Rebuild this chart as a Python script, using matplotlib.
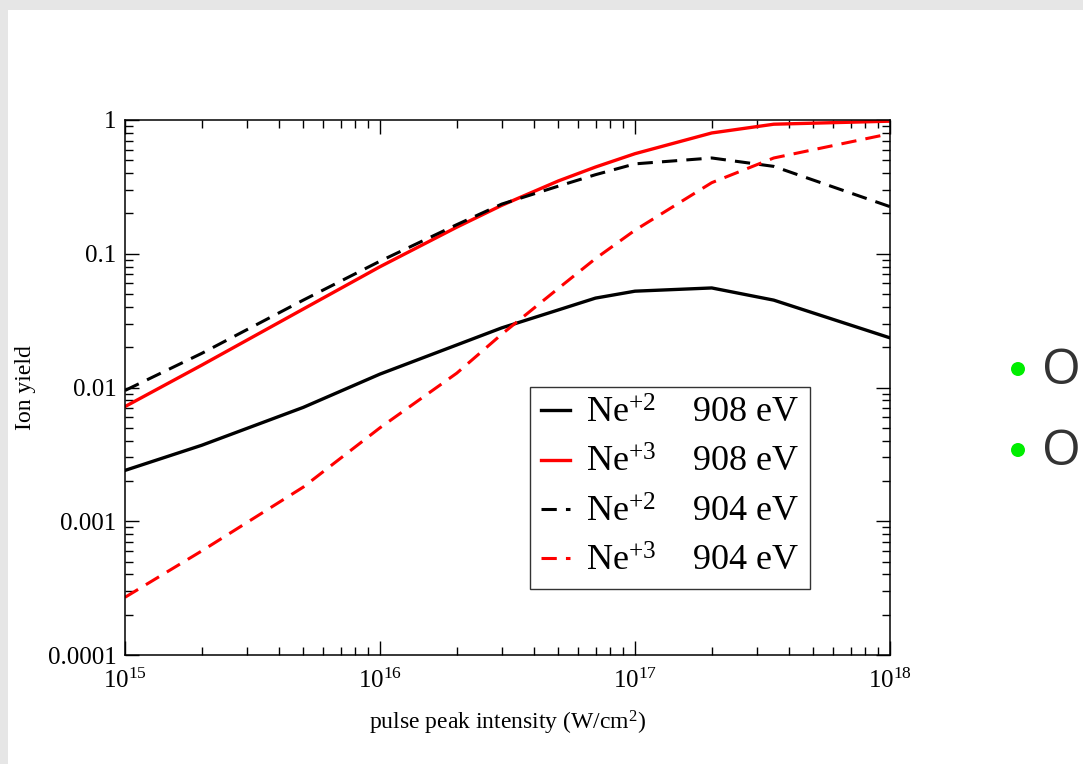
import matplotlib
matplotlib.use("Agg")
import matplotlib.pyplot as plt
from matplotlib.patches import Rectangle, Ellipse
from matplotlib.ticker import FixedLocator, FixedFormatter, LogLocator, NullFormatter
import numpy as np

plt.rcParams['font.family'] = ['Liberation Serif', 'DejaVu Serif']
plt.rcParams['mathtext.fontset'] = 'custom'
plt.rcParams['mathtext.rm'] = 'Liberation Serif'
plt.rcParams['mathtext.it'] = 'Liberation Serif:italic'
plt.rcParams['mathtext.bf'] = 'Liberation Serif:bold'

# ---- data ----
intensity = [1e15, 2e15, 5e15, 1e16, 2e16, 3e16, 5e16, 7e16, 1e17, 2e17, 3.5e17, 1e18]
ne2_908 = [0.0024, 0.0037, 0.0071, 0.0126, 0.0208, 0.0279, 0.038, 0.0466, 0.0525, 0.0555, 0.045, 0.0235]
ne3_908 = [0.0072, 0.0147, 0.0386, 0.080, 0.158, 0.23, 0.35, 0.445, 0.56, 0.80, 0.93, 0.98]
ne2_904 = [0.0095, 0.018, 0.045, 0.088, 0.165, 0.235, 0.32, 0.39, 0.47, 0.52, 0.45, 0.225]
ne3_904 = [0.00027, 0.00060, 0.0018, 0.0050, 0.0128, 0.025, 0.055, 0.092, 0.150, 0.34, 0.52, 0.79]

series_labels = ["Ne$^{+2}$    908 eV", "Ne$^{+3}$    908 eV",
                 "Ne$^{+2}$    904 eV", "Ne$^{+3}$    904 eV"]
ytick_vals = [1e-4, 1e-3, 1e-2, 1e-1, 1]
ytick_labels = ["0.0001", "0.001", "0.01", "0.1", "1"]
xtick_vals = [1e15, 1e16, 1e17, 1e18]
xtick_labels = ["$10^{15}$", "$10^{16}$", "$10^{17}$", "$10^{18}$"]

W, H = 1083, 764
fig = plt.figure(figsize=(W / 100, H / 100), dpi=100)
fig.patch.set_facecolor('#e6e6e6')
fig.patches.append(Rectangle((8 / W, 0), 1, 1 - 10 / H, transform=fig.transFigure,
                             facecolor='white', edgecolor='none', zorder=-5))

ax = fig.add_axes([125 / W, 1 - 655 / H, 765 / W, 535 / H], zorder=2)
ax.set_xscale('log')
ax.set_yscale('log')

lw = 2.4
dash = (0, (5.0, 3.0))
ax.plot(intensity, ne2_908, color='black', lw=lw, label=series_labels[0])
ax.plot(intensity, ne3_908, color='#ff0000', lw=lw, label=series_labels[1])
ax.plot(intensity, ne2_904, color='black', lw=2.2, ls=dash, label=series_labels[2])
ax.plot(intensity, ne3_904, color='#ff0000', lw=2.2, ls=dash, label=series_labels[3])

ax.set_xlim(1e15, 1e18)
ax.set_ylim(1e-4, 1)

ax.yaxis.set_major_locator(FixedLocator(ytick_vals))
ax.yaxis.set_major_formatter(FixedFormatter(ytick_labels))
ax.xaxis.set_major_locator(FixedLocator(xtick_vals))
ax.xaxis.set_major_formatter(FixedFormatter(xtick_labels))
ax.xaxis.set_minor_locator(LogLocator(base=10, subs=np.arange(2, 10)))
ax.yaxis.set_minor_locator(LogLocator(base=10, subs=np.arange(2, 10)))
ax.xaxis.set_minor_formatter(NullFormatter())
ax.yaxis.set_minor_formatter(NullFormatter())

ax.tick_params(which='both', direction='in', top=True, right=True, width=1.0, colors='black')
ax.tick_params(which='major', length=10, labelsize=18)
ax.tick_params(which='minor', length=5.5)
ax.tick_params(axis='x', which='major', pad=10)
ax.tick_params(axis='y', which='major', pad=6)
for s in ax.spines.values():
    s.set_linewidth(1.1)

ax.set_xlabel("pulse peak intensity (W/cm$^2$)", fontsize=17, labelpad=11)
ax.set_ylabel("Ion yield", fontsize=17)
ax.yaxis.set_label_coords(-(125 - 36) / 765, 0.5)

leg = ax.legend(loc='upper left', bbox_to_anchor=(405 / 765, (655 - 387) / 535),
                fontsize=26, frameon=True, fancybox=False, borderpad=0.3,
                handlelength=0.8, handletextpad=0.45, labelspacing=0.44,
                borderaxespad=0)
leg.get_frame().set_edgecolor('black')
leg.get_frame().set_linewidth(1.0)

# right side slide content (bullets and text)
for yc in (369, 450):
    fig.patches.append(Ellipse((1018 / W, 1 - yc / H), 14 / W, 14 / H, transform=fig.transFigure,
                               facecolor='#00ee00', edgecolor='none', zorder=1))
    fig.text(1042 / W, 1 - (yc + 2) / H, "O", fontsize=36, color='#333333',
             family=['Open Sans', 'DejaVu Sans'], va='center', ha='left')

fig.savefig("out.png", dpi=100)
